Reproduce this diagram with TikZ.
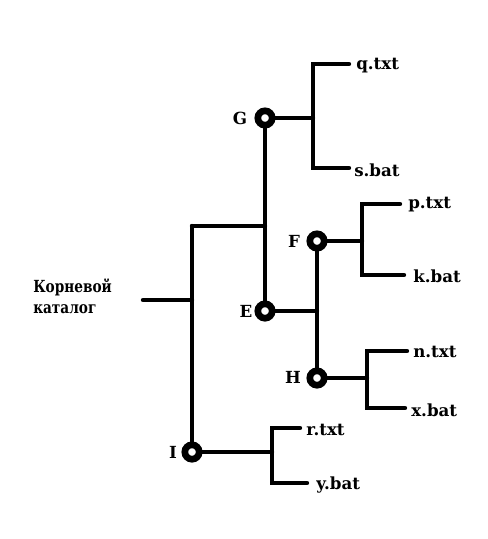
\documentclass[tikz,border=0pt]{standalone}
\usepackage{fontspec}
\setmainfont{DejaVu Serif}
\newfontfamily\rootfont[FakeStretch=0.82]{DejaVu Serif}
\begin{document}
\begin{tikzpicture}[x=0.75pt,y=-0.75pt,
  wire/.style={line width=3.3pt,line cap=round,line join=miter},
  ring/.style={circle,draw,line width=5pt,fill=white,minimum size=10.8pt,inner sep=0pt},
  lbl/.style={font=\bfseries\fontsize{12.5}{15}\selectfont,inner sep=0pt},
  fil/.style={lbl,anchor=west}]
\useasboundingbox (0,0) rectangle (487,539);
% junction points
\coordinate (G) at (265,118);
\coordinate (E) at (265,311);
\coordinate (F) at (317,241);
\coordinate (H) at (317,378);
\coordinate (I) at (192,452);
\coordinate (root) at (143,300);
\coordinate (rootj) at (192,300);
\coordinate (top) at (192,226);
\coordinate (topj) at (265,226);
\coordinate (gj) at (313,118);
\coordinate (gq) at (313,64);
\coordinate (gs) at (313,168);
\coordinate (gqe) at (349,64);
\coordinate (gse) at (349,168);
\coordinate (fj) at (362,241);
\coordinate (fp) at (362,204);
\coordinate (fk) at (362,275);
\coordinate (fpe) at (400,204);
\coordinate (fke) at (404,275);
\coordinate (ej) at (317,311);
\coordinate (hj) at (367,378);
\coordinate (hn) at (367,351);
\coordinate (hx) at (367,408);
\coordinate (hne) at (407,351);
\coordinate (hxe) at (405,408);
\coordinate (ij) at (272,452);
\coordinate (ir) at (272,428);
\coordinate (iy) at (272,483);
\coordinate (ire) at (300,428);
\coordinate (iye) at (307,483);
% wires
\draw[wire] (root) -- (rootj);
\draw[wire] (top) -- (I);
\draw[wire] (top) -- (topj);
\draw[wire] (G) -- (E);
\draw[wire] (G) -- (gj);
\draw[wire] (gqe) -- (gq) -- (gs) -- (gse);
\draw[wire] (E) -- (ej);
\draw[wire] (F) -- (H);
\draw[wire] (F) -- (fj);
\draw[wire] (fpe) -- (fp) -- (fk) -- (fke);
\draw[wire] (H) -- (hj);
\draw[wire] (hne) -- (hn) -- (hx) -- (hxe);
\draw[wire] (I) -- (ij);
\draw[wire] (ire) -- (ir) -- (iy) -- (iye);
% rings
\node[ring] (Gr) at (G) {};
\node[ring] (Er) at (E) {};
\node[ring] (Fr) at (F) {};
\node[ring] (Hr) at (H) {};
\node[ring] (Ir) at (I) {};
% labels
\node[lbl] (Gl) at (240,118) {G};
\node[lbl] (El) at (246,311) {E};
\node[lbl] (Fl) at (294,241) {F};
\node[lbl] (Hl) at (293,377) {H};
\node[lbl] (Il) at (173,452) {I};
\node[lbl,align=left,anchor=north west,font=\rootfont\bfseries\fontsize{12.5}{15.5}\selectfont] (rootl) at (33,279) {Корневой\\каталог};
\node[fil] (q) at (356,66) {q.txt};
\node[fil] (s) at (354,170) {s.bat};
\node[fil] (p) at (408,205) {p.txt};
\node[fil] (k) at (413,276) {k.bat};
\node[fil] (n) at (413,352) {n.txt};
\node[fil] (x) at (411,410) {x.bat};
\node[fil] (r) at (306,430) {r.txt};
\node[fil] (y) at (316,485) {y.bat};
\end{tikzpicture}
\end{document}
